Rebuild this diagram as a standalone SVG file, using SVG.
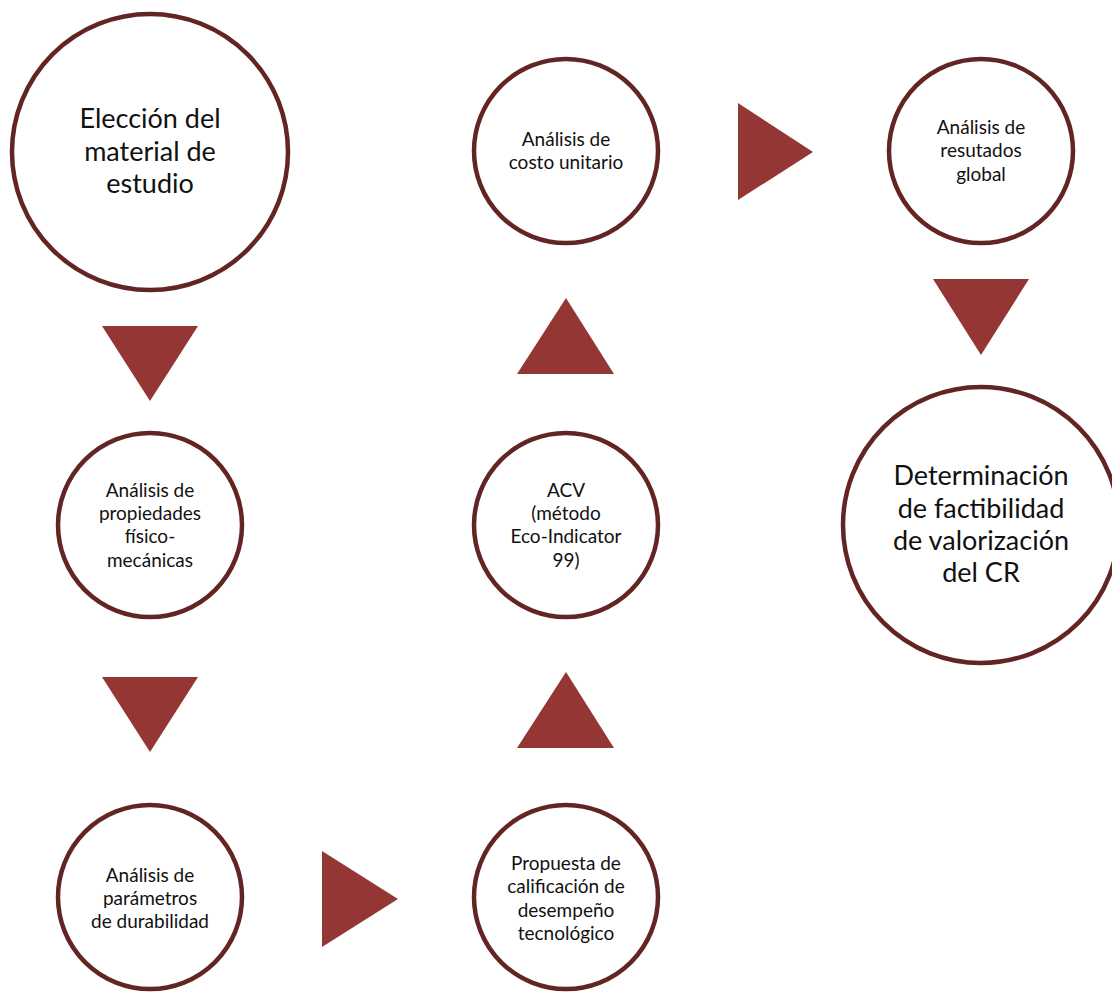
<svg xmlns="http://www.w3.org/2000/svg" width="1112" height="992" viewBox="0 0 1112 992">
<style>
.node{fill:#ffffff;stroke:#632523;stroke-width:4.5}
.arrow{fill:#943634}
.big{font-family:Lato,"Liberation Sans",sans-serif;font-size:27px;fill:#111111;text-anchor:middle}
.small{font-family:Lato,"Liberation Sans",sans-serif;font-size:19px;fill:#111111;text-anchor:middle}
</style>
<rect width="1112" height="992" fill="#ffffff"/>
<g id="connectors">
<polygon class="arrow" points="102,326 198,326 150,401"/>
<polygon class="arrow" points="102,677 198,677 150,752"/>
<polygon class="arrow" points="322,851 322,947 398,899"/>
<polygon class="arrow" points="517,748 614,748 566,672"/>
<polygon class="arrow" points="517,374 614,374 566,298"/>
<polygon class="arrow" points="738,103 738,200 813,152"/>
<polygon class="arrow" points="933,279 1029,279 981,355"/>
</g>
<g id="n1">
<circle class="node" cx="150" cy="152" r="138"/>
<text class="big" x="150" y="128">Elección del</text>
<text class="big" x="150" y="161">material de</text>
<text class="big" x="150" y="193">estudio</text>
</g>
<g id="n2">
<circle class="node" cx="150" cy="525" r="92"/>
<text class="small" x="150" y="497">Análisis de</text>
<text class="small" x="150" y="520">propiedades</text>
<text class="small" x="150" y="543">físico-</text>
<text class="small" x="150" y="567">mecánicas</text>
</g>
<g id="n3">
<circle class="node" cx="150" cy="897" r="92"/>
<text class="small" x="150" y="882">Análisis de</text>
<text class="small" x="150" y="905">parámetros</text>
<text class="small" x="150" y="928">de durabilidad</text>
</g>
<g id="n4">
<circle class="node" cx="566" cy="897" r="92"/>
<text class="small" x="566" y="870">Propuesta de</text>
<text class="small" x="566" y="893">calificación de</text>
<text class="small" x="566" y="917">desempeño</text>
<text class="small" x="566" y="940">tecnológico</text>
</g>
<g id="n5">
<circle class="node" cx="566" cy="525" r="92"/>
<text class="small" x="566" y="497">ACV</text>
<text class="small" x="566" y="520">(método</text>
<text class="small" x="566" y="543">Eco-Indicator</text>
<text class="small" x="566" y="567">99)</text>
</g>
<g id="n6">
<circle class="node" cx="566" cy="151" r="92"/>
<text class="small" x="566" y="146">Análisis de</text>
<text class="small" x="566" y="169">costo unitario</text>
</g>
<g id="n7">
<circle class="node" cx="981" cy="151" r="92"/>
<text class="small" x="981" y="134">Análisis de</text>
<text class="small" x="981" y="157">resutados</text>
<text class="small" x="981" y="181">global</text>
</g>
<g id="n8">
<circle class="node" cx="981" cy="525" r="138"/>
<text class="big" x="981" y="485">Determinación</text>
<text class="big" x="981" y="518">de factibilidad</text>
<text class="big" x="981" y="550">de valorización</text>
<text class="big" x="981" y="582">del CR</text>
</g>
</svg>
